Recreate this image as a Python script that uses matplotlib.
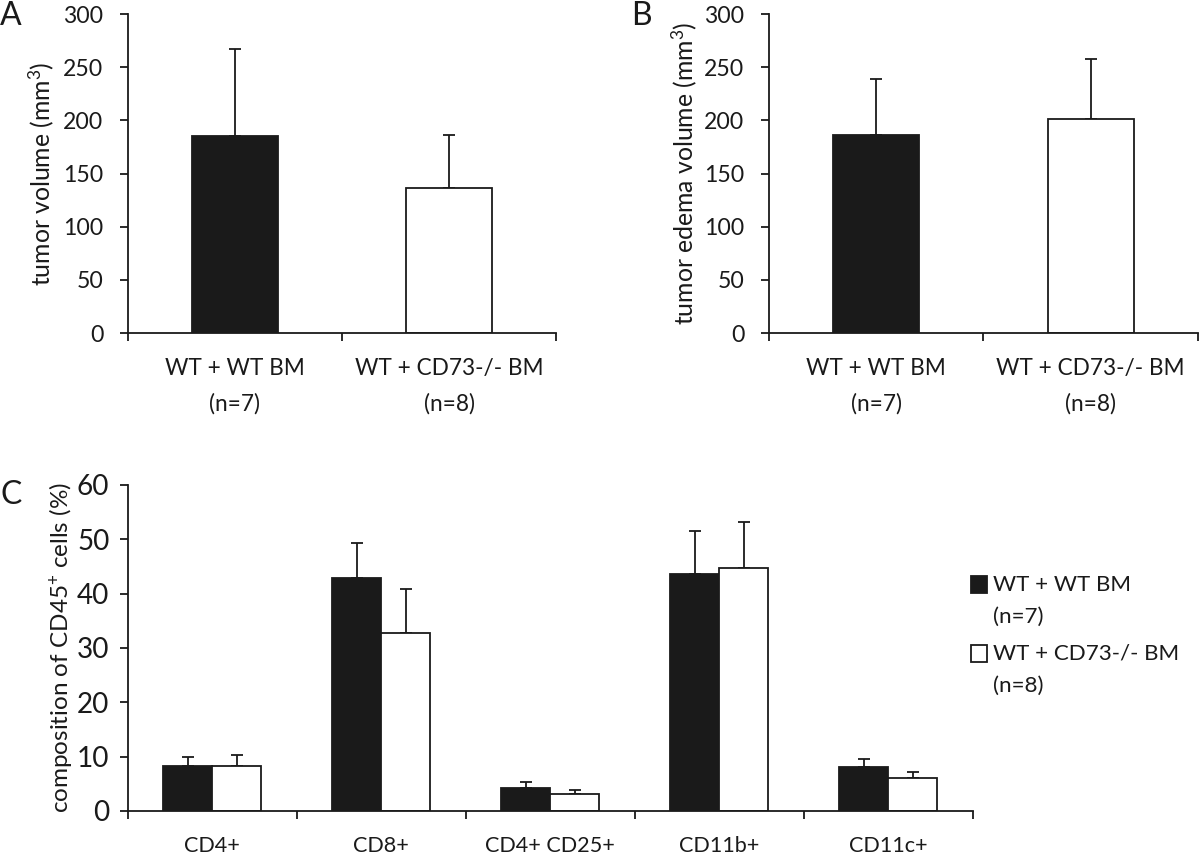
import matplotlib
matplotlib.use('Agg')
import matplotlib.pyplot as plt
from matplotlib.patches import Rectangle
from matplotlib.legend_handler import HandlerPatch
from matplotlib.textpath import TextPath
from matplotlib.font_manager import FontProperties
import numpy as np

# ---- data ----
groups = ["WT + WT BM\n(n=7)", "WT + CD73-/- BM\n(n=8)"]
tumor_volume = [185.5, 136.5]
tumor_volume_err = [82.0, 50.0]
edema_volume = [186.5, 201.0]
edema_volume_err = [52.5, 57.0]

cell_types = ["CD4+", "CD8+", "CD4+ CD25+", "CD11b+", "CD11c+"]
wt_bm = [8.3, 42.8, 4.3, 43.6, 8.0]
wt_bm_err = [1.7, 6.5, 1.1, 7.9, 1.6]
cd73_bm = [8.3, 32.7, 3.1, 44.8, 6.0]
cd73_bm_err = [2.0, 8.1, 0.8, 8.4, 1.2]

legend_labels = ["WT + WT BM\n(n=7)", "WT + CD73-/- BM\n(n=8)"]
yticks_ab = [0, 50, 100, 150, 200, 250, 300]
yticks_c = [0, 10, 20, 30, 40, 50, 60]

FAMILY = 'Lato'
plt.rcParams['font.family'] = [FAMILY, 'DejaVu Sans']
plt.rcParams['mathtext.fontset'] = 'custom'
plt.rcParams['mathtext.rm'] = FAMILY
plt.rcParams['mathtext.it'] = FAMILY + ':italic'
plt.rcParams['mathtext.bf'] = FAMILY + ':bold'
plt.rcParams['mathtext.default'] = 'regular'

DPI = 100
PX = DPI / 72.0          # pixels per point
FP = FontProperties(family=FAMILY)


def ext(text):
    return TextPath((0, 0), text, size=100, prop=FP).get_extents()


def fit(text, target_px):
    """font size (pt) so that the ink width of text is target_px pixels"""
    return 100.0 * target_px / (ext(text).width * PX)


LP = ext("lp")
ASC = LP.y1 / 100.0       # ascent of 'l' per point of font size
DESC = -LP.y0 / 100.0     # descent of 'p'


def linespacing_for(fs, dist_px):
    return dist_px / (ASC * fs * PX)


FS_TICK_AB = fit("300", 38.4)
FS_XLAB = fit("WT + WT BM", 137.7)
FS_YLAB_A = fit("tumor volume (mm$^3$)", 221.8)
FS_TICK_C = fit("60", 30.0)
FS_YLAB_C = fit("composition of CD45$^{+}$ cells (%)", 328.7)
FS_XLAB_C = fit("CD4+", 54.0)
FS_LEG = fit("WT + WT BM", 136.0)

INK = '#1a1a1a'
LW = 1.3

fig = plt.figure(figsize=(12, 8.55), dpi=DPI)


def style_axis(ax, n, ticks, ylim, fs_tick, ypad):
    for s in ['top', 'right']:
        ax.spines[s].set_visible(False)
    for s in ['left', 'bottom']:
        ax.spines[s].set_color(INK)
        ax.spines[s].set_linewidth(LW)
    ax.set_xlim(-0.5, n - 0.5)
    ax.set_ylim(*ylim)
    ax.set_yticks(ticks)
    ax.set_xticks(np.arange(-0.5, n, 1.0))
    ax.set_xticklabels([])
    ax.tick_params(axis='y', direction='out', length=5.6, width=LW, color=INK,
                   labelsize=fs_tick, pad=ypad, labelcolor=INK)
    ax.tick_params(axis='x', which='major', direction='out', length=5.8, width=LW, color=INK)


def panel_ab(rect, vals, errs, ylabel, letter, lx, lab_x):
    ax = fig.add_axes(rect)
    x = np.arange(len(groups))
    ax.bar(x, vals, width=0.4, color=[INK, 'white'], edgecolor=INK, linewidth=LW, zorder=2)
    ax.errorbar(x, vals, yerr=[np.zeros(len(vals)), errs], fmt='none', ecolor=INK,
                elinewidth=LW, capsize=4.5, capthick=LW, zorder=1)
    style_axis(ax, len(groups), yticks_ab, (0, 300), FS_TICK_AB, 12)
    ax.set_xticks(x, minor=True)
    ax.set_xticklabels(groups, minor=True, fontsize=FS_XLAB, color=INK,
                       linespacing=linespacing_for(FS_XLAB, 30.0))
    # first baseline 42 px below the axis
    ax.tick_params(axis='x', which='minor', length=0,
                   pad=(42.0 - ASC * FS_XLAB * PX) / PX)
    ax.set_ylabel(ylabel, fontsize=FS_YLAB_A, color=INK, va='center')
    ax.yaxis.set_label_coords(lab_x, 0.5)
    fig.text(lx, 1 - 25.0 / 855, letter, fontsize=23, color=INK, ha='left', va='baseline')
    return ax


panel_ab([0.1064, 0.6105, 0.3572, 0.3731], tumor_volume, tumor_volume_err,
         'tumor volume (mm$^3$)', 'A', 0.0, -0.202)
panel_ab([0.6406, 0.6105, 0.3578, 0.3731], edema_volume, edema_volume_err,
         'tumor edema volume (mm$^3$)', 'B', 0.526, -0.197)

# panel C
axc = fig.add_axes([0.1064, 0.0515, 0.7044, 0.3813])
xc = np.arange(len(cell_types))
w = 0.29
b1 = axc.bar(xc - w / 2, wt_bm, width=w, color=INK, edgecolor=INK, linewidth=LW, zorder=2)
b2 = axc.bar(xc + w / 2, cd73_bm, width=w, color='white', edgecolor=INK, linewidth=LW, zorder=2)
axc.errorbar(xc - w / 2, wt_bm, yerr=[np.zeros(len(xc)), wt_bm_err], fmt='none', ecolor=INK,
             elinewidth=LW, capsize=4, capthick=LW, zorder=1)
axc.errorbar(xc + w / 2, cd73_bm, yerr=[np.zeros(len(xc)), cd73_bm_err], fmt='none', ecolor=INK,
             elinewidth=LW, capsize=4, capthick=LW, zorder=1)
style_axis(axc, len(cell_types), yticks_c, (0, 60), FS_TICK_C, 7.5)
axc.set_xticks(xc, minor=True)
axc.set_xticklabels(cell_types, minor=True, fontsize=FS_XLAB_C, color=INK)
axc.tick_params(axis='x', which='minor', length=0,
                pad=(40.7 - ASC * FS_XLAB_C * PX) / PX)
axc.set_ylabel('composition of CD45$^{+}$ cells (%)', fontsize=FS_YLAB_C, color=INK, va='center')
axc.yaxis.set_label_coords(-0.079, 0.5)
fig.text(0.0, 1 - 504.0 / 855, 'C', fontsize=23, color=INK, ha='left', va='baseline')

# legend: square aligned with the first line of each two-line label
LEG_DIST = 28.5                       # px between the two lines of a label
LEG_FS_PX = FS_LEG * PX
LEG_LS = linespacing_for(FS_LEG, LEG_DIST)
SQ_PT = 16.5 / PX                     # square side in points
LEG_GAP = 66.0 - (ASC + DESC) * LEG_FS_PX - LEG_DIST


def top_square(legend, orig_handle, xdescent, ydescent, width, height, fontsize):
    y0 = 0.5 * (LEG_DIST / PX + DESC * FS_LEG)
    return Rectangle((-xdescent, y0), SQ_PT, SQ_PT)


h1 = b1.patches[0]
h2 = b2.patches[0]
leg_top_px = 591.7 - ASC * LEG_FS_PX
leg = fig.legend([h1, h2], legend_labels, loc='upper left',
                 bbox_to_anchor=(970.7 / 1200, 1 - leg_top_px / 855),
                 bbox_transform=fig.transFigure, frameon=False,
                 fontsize=FS_LEG, handlelength=SQ_PT / FS_LEG, handleheight=0.6,
                 handletextpad=6.0 / LEG_FS_PX, labelspacing=LEG_GAP / LEG_FS_PX,
                 borderpad=0, borderaxespad=0, labelcolor=INK,
                 handler_map={h1: HandlerPatch(patch_func=top_square),
                              h2: HandlerPatch(patch_func=top_square)})
for t in leg.get_texts():
    t.set_linespacing(LEG_LS)

fig.savefig('out.png', dpi=DPI)
